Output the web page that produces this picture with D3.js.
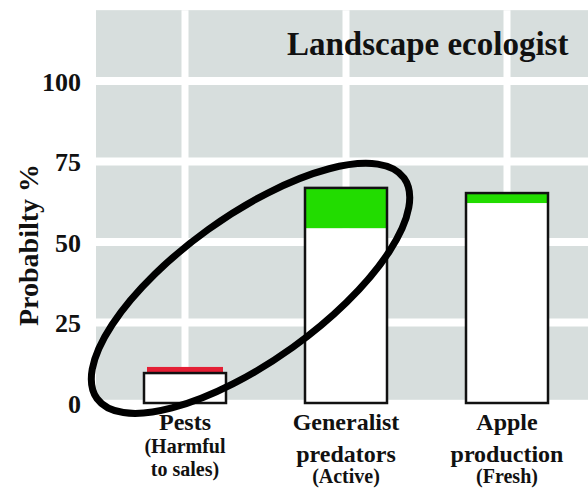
<!DOCTYPE html>
<html>
<head>
<meta charset="utf-8">
<script src="https://cdn.jsdelivr.net/npm/d3@7"></script>
<style>
  body { margin: 0; background: #ffffff; }
  svg { display: block; }
  text { font-family: "Liberation Serif", "Times New Roman", serif; font-weight: bold; fill: #111111; }
</style>
</head>
<body>
<svg id="chart" width="588" height="490"></svg>
<script>
// data
var categories = ['Pests', 'Generalist predators', 'Apple production'];
var baseValues = [9.3, 54.3, 62.1];      // white part of each bar
var changeValues = [1.9, 12.5, 3.1];     // coloured part on top
var changeColors = ['#e41f35', '#22dc00', '#22dc00'];
var outlined = [true, false, false];     // red change sits above the outline
var yTicks = [0, 25, 50, 75, 100];
var labelLines = [
  ['Pests', '(Harmful', 'to sales)'],
  ['Generalist', 'predators', '(Active)'],
  ['Apple', 'production', '(Fresh)']
];
var labelSizes = [
  ['big', 'small', 'small'],
  ['big', 'big', 'small'],
  ['big', 'big', 'small']
];
var title = 'Landscape ecologist';
var yTitle = 'Probabilty %';

var svg = d3.select('#chart');
var width = 588;

var y = d3.scaleLinear().domain([0, 100]).range([403, 81]);
var x = d3.scalePoint().domain(categories).range([185, 507]);
var xi = d3.scaleLinear().domain([0, categories.length - 1]).range([185, 507]);
var barW = 82;

// grey plot panel
var panelTop = y(122), panelBottom = y(1);
svg.append('rect')
  .attr('x', 96)
  .attr('y', panelTop)
  .attr('width', width - 96)
  .attr('height', panelBottom - panelTop)
  .attr('fill', '#d7dedd');

// white grid lines
svg.selectAll('.hgrid')
  .data(yTicks.filter(function (d) { return d > 0; }))
  .enter().append('line')
  .attr('class', 'hgrid')
  .attr('x1', 96).attr('x2', width)
  .attr('y1', function (d) { return y(d); })
  .attr('y2', function (d) { return y(d); })
  .attr('stroke', '#ffffff')
  .attr('stroke-width', 8);

svg.selectAll('.vgrid')
  .data(categories)
  .enter().append('line')
  .attr('class', 'vgrid')
  .attr('x1', function (d) { return x(d); })
  .attr('x2', function (d) { return x(d); })
  .attr('y1', panelTop).attr('y2', panelBottom)
  .attr('stroke', '#ffffff')
  .attr('stroke-width', 7);

// title
svg.append('text')
  .attr('x', 287)
  .attr('y', 55)
  .style('font-size', '33px')
  .text(title);

// y axis tick labels
svg.selectAll('.ytick')
  .data(yTicks)
  .enter().append('text')
  .attr('class', 'ytick')
  .attr('x', 81)
  .attr('y', function (d) { return y(d); })
  .attr('dy', '0.38em')
  .style('text-anchor', 'end')
  .style('font-size', '26px')
  .text(function (d) { return d; });

// y axis title
svg.append('text')
  .attr('transform', 'translate(38,245) rotate(-90)')
  .style('text-anchor', 'middle')
  .style('font-size', '28px')
  .text(yTitle);

// bars
var bars = svg.selectAll('.bar')
  .data(categories.map(function (c, i) {
    return { cat: c, base: baseValues[i], change: changeValues[i], color: changeColors[i], outlineBase: outlined[i] };
  }))
  .enter().append('g')
  .attr('class', 'bar');

bars.append('rect')
  .attr('x', function (d) { return x(d.cat) - barW / 2; })
  .attr('y', function (d) { return y(d.base); })
  .attr('width', barW)
  .attr('height', function (d) { return y(0) - y(d.base); })
  .attr('fill', '#ffffff');

bars.append('rect')
  .attr('x', function (d) { return x(d.cat) - barW / 2 + (d.outlineBase ? 3 : 0); })
  .attr('y', function (d) { return y(d.base + d.change); })
  .attr('width', function (d) { return barW - (d.outlineBase ? 6 : 0); })
  .attr('height', function (d) { return y(d.base) - y(d.base + d.change); })
  .attr('fill', function (d) { return d.color; });

bars.append('rect')
  .attr('x', function (d) { return x(d.cat) - barW / 2; })
  .attr('y', function (d) { return y(d.outlineBase ? d.base : d.base + d.change); })
  .attr('width', barW)
  .attr('height', function (d) { return y(0) - y(d.outlineBase ? d.base : d.base + d.change); })
  .attr('fill', 'none')
  .attr('stroke', '#111111')
  .attr('stroke-width', 2.5);

// category labels
var lineStep = { big: 32, small: 23 };
categories.forEach(function (c, i) {
  var yy = 430;
  labelLines[i].forEach(function (line, j) {
    if (j > 0) yy += (labelSizes[i][j] === 'small' && labelSizes[i][j - 1] === 'big' && j === 2) ? 21 : lineStep[labelSizes[i][j]];
    svg.append('text')
      .attr('x', x(c))
      .attr('y', yy)
      .style('text-anchor', 'middle')
      .style('font-size', labelSizes[i][j] === 'big' ? '24px' : '20px')
      .text(line);
  });
});

// annotation ellipse round the first two categories
svg.append('ellipse')
  .attr('transform', 'translate(' + xi(0.407) + ',' + y(35.6) + ') rotate(-35.7)')
  .attr('rx', 189)
  .attr('ry', 72.5)
  .attr('fill', 'none')
  .attr('stroke', '#000000')
  .attr('stroke-width', 7);
</script>
</body>
</html>
